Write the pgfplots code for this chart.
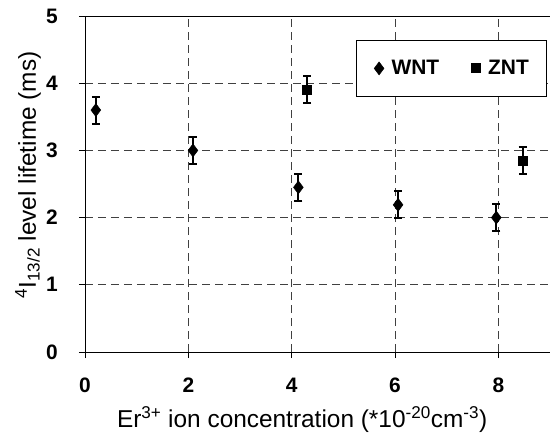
\documentclass[border=0pt]{standalone}
\usepackage{fontspec}
\setmainfont{Liberation Sans}
\usepackage{pgfplots}
\pgfplotsset{compat=1.18}
\begin{document}
\begin{tikzpicture}
\begin{axis}[
  scale only axis,
  width=465bp,
  height=336bp,
  xmin=0, xmax=9,
  ymin=0, ymax=5,
  xtick={0,2,4,6,8},
  ytick={0,1,2,3,4,5},
  grid=major,
  grid style={draw=black!75, line width=1pt, dash pattern=on 8bp off 5bp},
  separate axis lines,
  axis x line*=bottom,
  axis y line*=left,
  axis line style={line width=1pt, -},
  tick style={black, line width=1pt},
  tick align=outside,
  major tick length=6bp,
  clip=false,
  /pgf/number format/assume math mode=true,
  ticklabel style={font=\fontsize{21}{24}\selectfont\bfseries},
  xticklabel style={anchor=center, yshift=-27bp},
  yticklabel style={anchor=center, xshift=-27bp},
  xlabel={Er\textsuperscript{3+} ion concentration (*10\textsuperscript{-20}cm\textsuperscript{-3})},
  ylabel={\textsuperscript{4}I\textsubscript{13/2} level lifetime (ms)},
  label style={font=\fontsize{24.5}{28}\selectfont},
  xlabel style={at={(rel axis cs:0.467,0)}, anchor=center, yshift=-68bp},
  ylabel style={at={(rel axis cs:0,0.527)}, anchor=center, yshift=57bp},
  legend columns=2,
  legend style={at={(0.583,0.9286)}, anchor=north west, draw=black, line width=1pt,
    font=\fontsize{21}{24}\selectfont\bfseries, inner xsep=16bp, inner ysep=18bp,
    /tikz/every even column/.append style={column sep=28bp}},
  legend cell align=left,
  legend image code/.code={\path (0bp,0bp) (16bp,0bp);
    \draw[#1] plot coordinates {(6bp,0bp)};},
]
\addplot+[only marks, black, mark=diamond*, mark size=6.5bp,
  mark options={fill=black, line width=0.5pt},
  error bars/.cd, y dir=both, y explicit,
  error bar style={line width=2pt},
  error mark options={rotate=90, mark size=4bp, line width=2pt}]
  coordinates {
  (0.21,3.6) +- (0,0.2)
  (2.09,3.0) +- (0,0.2)
  (4.13,2.45) +- (0,0.2)
  (6.06,2.19) +- (0,0.2)
  (7.96,2.0) +- (0,0.2)
};
\addlegendentry{WNT}
\addplot+[only marks, black, mark=square*, mark size=4.5bp,
  mark options={fill=black},
  error bars/.cd, y dir=both, y explicit,
  error bar style={line width=2pt},
  error mark options={rotate=90, mark size=4bp, line width=2pt}]
  coordinates {
  (4.3,3.9) +- (0,0.2)
  (8.47,2.85) +- (0,0.2)
};
\addlegendentry{ZNT}
\draw[line width=1pt] (rel axis cs:0,1) -- (rel axis cs:1,1);
\coordinate (bl) at (rel axis cs:0,0);
\coordinate (tr) at (rel axis cs:1,1);
\end{axis}
\pgfresetboundingbox
\path[use as bounding box] ([xshift=-85bp,yshift=-91bp]bl) rectangle ([yshift=16bp]tr);
\end{tikzpicture}
\end{document}
